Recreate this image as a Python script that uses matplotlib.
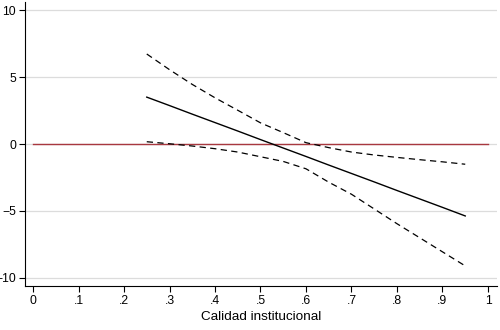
import matplotlib
matplotlib.use("Agg")
from matplotlib import pyplot as plt

# valores
calidad = [0.25, 0.30, 0.35, 0.40, 0.45, 0.50, 0.55, 0.60, 0.65, 0.70, 0.75, 0.80, 0.85, 0.90, 0.95]
efecto = [3.50, 2.87, 2.23, 1.60, 0.97, 0.33, -0.30, -0.93, -1.57, -2.20, -2.83, -3.47, -4.10, -4.73, -5.37]
sup = [6.72, 5.55, 4.45, 3.45, 2.52, 1.58, 0.85, 0.10, -0.27, -0.60, -0.82, -1.00, -1.17, -1.33, -1.51]
inf = [0.17, 0.02, -0.15, -0.35, -0.60, -0.95, -1.30, -1.85, -2.85, -3.75, -4.85, -5.95, -7.00, -8.05, -9.10]

xticks = [0, .1, .2, .3, .4, .5, .6, .7, .8, .9, 1]
xlabels = ["0", ".1", ".2", ".3", ".4", ".5", ".6", ".7", ".8", ".9", "1"]
yticks = [-10, -5, 0, 5, 10]

plt.rcParams['font.family'] = ['Liberation Sans', 'DejaVu Sans']

fig = plt.figure(figsize=(5, 3.3), dpi=100)
ax = fig.add_axes([0.05, 0.1333, 0.944, 0.8606])

for yv in yticks:
    ax.axhline(yv, color="#dcdcdc", lw=0.9, zorder=0)

ax.plot([0, 1], [0, 0], color="#a8383f", lw=1.0, zorder=1)
ax.plot(calidad, efecto, color="black", lw=1.0, zorder=2)
ax.plot(calidad, sup, color="black", lw=0.9, dashes=(5, 3.5), zorder=2)
ax.plot(calidad, inf, color="black", lw=0.9, dashes=(5, 3.5), zorder=2)

ax.set_xlim(-0.0176, 1.0198)
ax.set_ylim(-10.6, 10.6)
ax.set_xticks(xticks)
ax.set_xticklabels(xlabels)
ax.set_yticks(yticks)
ax.spines['top'].set_visible(False)
ax.spines['right'].set_visible(False)
ax.spines['left'].set_linewidth(0.8)
ax.spines['bottom'].set_linewidth(0.8)
ax.tick_params(direction="out", length=4, width=0.8, labelsize=8.7, pad=2.5)
ax.set_xlabel("Calidad institucional", fontsize=9.7, labelpad=3)

fig.savefig("out.png", dpi=100)
